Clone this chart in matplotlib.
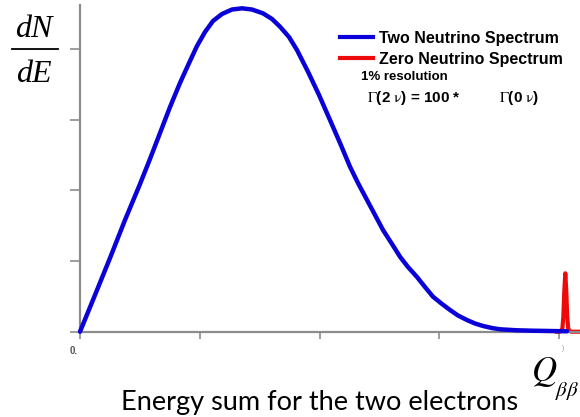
import matplotlib
matplotlib.use("Agg")
import matplotlib.pyplot as plt
from matplotlib.lines import Line2D

plt.rcParams["mathtext.fontset"] = "stix"

# Summed electron energy in units of Q_bb, and spectrum heights (arb. units)
two_nu_energy = [0.0, 0.0313, 0.0626, 0.0939, 0.1252, 0.1460, 0.1669, 0.1878,
                 0.2086, 0.2295, 0.2441, 0.2608, 0.2775, 0.2963, 0.3171,
                 0.3380, 0.3589, 0.3818, 0.4006, 0.4173, 0.4361, 0.4527,
                 0.4757, 0.4987, 0.5216, 0.5425, 0.5633, 0.5800, 0.5988,
                 0.6155, 0.6322, 0.6510, 0.6676, 0.6843, 0.7031, 0.7198,
                 0.7365, 0.7553, 0.7720, 0.7887, 0.8074, 0.8241, 0.8408,
                 0.8596, 0.8763, 0.9117, 0.9451, 0.9806, 1.0161]
two_nu_counts = [0.0, 0.519, 1.042, 1.580, 2.089, 2.443, 2.810, 3.178, 3.518,
                 3.829, 4.041, 4.239, 4.395, 4.494, 4.557, 4.574, 4.557,
                 4.503, 4.423, 4.314, 4.168, 3.984, 3.677, 3.348, 2.994,
                 2.669, 2.334, 2.103, 1.863, 1.651, 1.438, 1.240, 1.061,
                 0.915, 0.774, 0.632, 0.495, 0.392, 0.307, 0.229, 0.165,
                 0.116, 0.081, 0.052, 0.034, 0.020, 0.014, 0.010, 0.006]

zero_nu_energy = [0.995, 1.000, 1.004, 1.0065, 1.0085, 1.0105, 1.0125,
                  1.0145, 1.0165, 1.0185, 1.021, 1.025, 1.035, 1.045]
zero_nu_counts = [0.0, 0.0, 0.01, 0.05, 0.22, 0.58, 0.826, 0.58, 0.22,
                  0.05, 0.01, 0.0, 0.0, 0.0]

x_ticks = [0.0, 0.25, 0.5, 0.75, 1.0]
y_ticks = [0, 1, 2, 3, 4]

legend_labels = ["Two Neutrino Spectrum", "Zero Neutrino Spectrum"]
blue = "#0a00d8"
red = "#ee0a0a"
axis_grey = "#8c8c8c"

fig = plt.figure(figsize=(5.8, 4.17), dpi=100)
ax = fig.add_axes([80 / 580, (417 - 331.7) / 417, 500 / 580, 326.7 / 417])

ax.plot(zero_nu_energy, zero_nu_counts, color=red, lw=3.0,
        solid_joinstyle="round", clip_on=False, zorder=2)
ax.plot(two_nu_energy, two_nu_counts, color=blue, lw=3.2,
        solid_joinstyle="round", solid_capstyle="round", clip_on=False,
        zorder=3)

ax.set_xlim(0, 500 / 479.3)
ax.set_ylim(0, 326.7 / 70.7)

for side in ("top", "right"):
    ax.spines[side].set_visible(False)
for side in ("left", "bottom"):
    ax.spines[side].set_color(axis_grey)
    ax.spines[side].set_linewidth(1.6)

ax.set_xticks(x_ticks)
ax.set_yticks(y_ticks)
ax.set_xticklabels([])
ax.set_yticklabels([])
ax.tick_params(axis="x", direction="out", color=axis_grey, width=1.2,
               length=5)
ax.tick_params(axis="y", direction="out", color=axis_grey, width=1.2,
               length=7)

# x tick annotations at the two ends of the scale
ax.text(-0.0136, -0.27, "0.", ha="center", va="center", fontsize=7,
        color="#555555", fontweight="bold", family="Liberation Sans")
ax.text(1.0077, -0.24, ")", ha="center", va="center", fontsize=5,
        color="#999999", family="Liberation Sans")

# Legend with handles for both spectra
handles = [Line2D([], [], color=blue, lw=3.0),
           Line2D([], [], color=red, lw=3.0)]
leg = ax.legend(handles, legend_labels, loc="upper left",
                bbox_to_anchor=(340 / 580, 1 - 31 / 417),
                bbox_transform=fig.transFigure, frameon=False,
                handlelength=2.05, handletextpad=0.42, labelspacing=0.37,
                borderpad=0.0, borderaxespad=0.0,
                prop={"family": "Liberation Sans", "weight": "bold",
                      "size": 11.5})

fig.text(361 / 580, 1 - 77 / 417, "1% resolution", ha="left", va="center",
         fontsize=9.5, fontweight="bold", family="Liberation Sans")
fig.text(367 / 580, 1 - 98 / 417,
         r"$\Gamma$(2 $\mathrm{\nu}$) = 100 *", ha="left",
         va="center", fontsize=11, fontweight="bold",
         family="Liberation Sans")
fig.text(499 / 580, 1 - 98 / 417,
         r"$\Gamma$(0 $\mathrm{\nu}$)", ha="left",
         va="center", fontsize=11, fontweight="bold",
         family="Liberation Sans")

# dN/dE written as a stacked fraction
fig.text(34 / 580, 1 - 37 / 417, "dN", ha="center", va="baseline",
         fontsize=23, style="italic", family="Liberation Serif")
fig.add_artist(Line2D([11.7 / 580, 58.3 / 580], [1 - 48.5 / 417, 1 - 48.5 / 417],
                      color="black", lw=1.3, transform=fig.transFigure))
fig.text(34 / 580, 1 - 82 / 417, "dE", ha="center", va="baseline",
         fontsize=23, style="italic", family="Liberation Serif")

# Q-value label
fig.text(531 / 580, 1 - 381 / 417, r"$Q$", ha="left", va="baseline",
         fontsize=25)
fig.text(555 / 580, 1 - 396 / 417, r"$\beta\beta$", ha="left",
         va="baseline", fontsize=15)

fig.text(320 / 580, 1 - 410 / 417, "Energy sum for the two electrons",
         ha="center", va="baseline", fontsize=19.5, family="Lato")

fig.savefig("out.png", dpi=100)
